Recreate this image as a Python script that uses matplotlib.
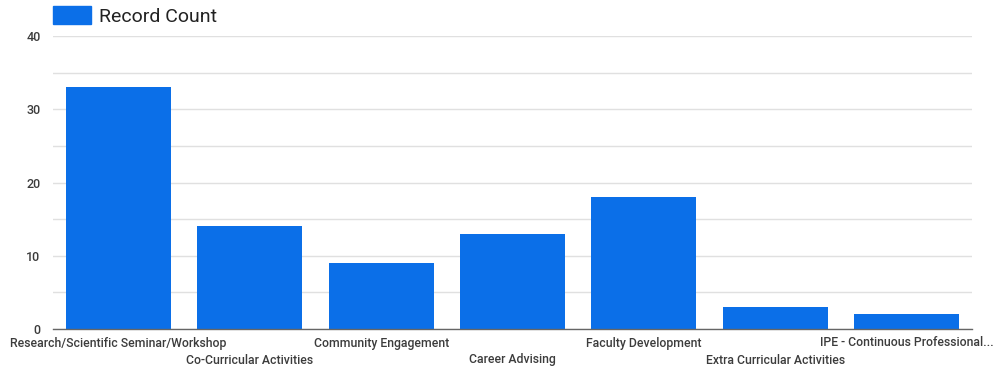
import matplotlib
matplotlib.use("Agg")
import matplotlib.pyplot as plt
from matplotlib.patches import Patch
from matplotlib.ticker import MultipleLocator

plt.rcParams['font.family'] = ['Roboto', 'DejaVu Sans']

categories = [
    "Research/Scientific Seminar/Workshop",
    "Co-Curricular Activities",
    "Community Engagement",
    "Career Advising",
    "Faculty Development",
    "Extra Curricular Activities",
    "IPE - Continuous Professional...",
]
record_count = [33, 14, 9, 13, 18, 3, 2]
y_ticks = [0, 10, 20, 30, 40]

bar_color = "#0b6fe8"
text_color = "#3c3c3c"

fig = plt.figure(figsize=(9.95, 3.71), dpi=100)
ax = fig.add_axes([53 / 995, 1 - 329 / 371, (972 - 53) / 995, (329 - 36) / 371])

x = list(range(len(categories)))
ax.bar(x, record_count, width=0.8, color=bar_color, zorder=3)

ax.set_xlim(-0.5, len(categories) - 0.5)
ax.set_ylim(0, 40)
ax.set_yticks(y_ticks)
ax.yaxis.set_minor_locator(MultipleLocator(5))
ax.grid(axis='y', which='both', color='#e0e0e0', linewidth=1, zorder=0)
ax.tick_params(axis='y', which='both', length=0, pad=9, labelsize=9,
               labelcolor=text_color)
for lbl in ax.get_yticklabels():
    lbl.set_fontweight('medium')
ax.tick_params(axis='x', length=0)
ax.set_xticks([])

for s in ['top', 'right', 'left']:
    ax.spines[s].set_visible(False)
ax.spines['bottom'].set_color('#666666')
ax.spines['bottom'].set_linewidth(1)
ax.spines['bottom'].set_zorder(4)

# category labels staggered over two rows
for i, name in enumerate(categories):
    y_off = -14 / 293 * 40 if i % 2 == 0 else -31 / 293 * 40
    ax.text(i, y_off, name, ha='center', va='center', fontsize=8.8,
            fontweight='medium', color=text_color, clip_on=False)

handle = Patch(facecolor=bar_color, edgecolor=bar_color)
fig.legend([handle], ["Record Count"], loc='upper left',
           bbox_to_anchor=(36 / 995, 1.03), frameon=False,
           prop={'size': 14, 'weight': 'normal'},
           handlelength=1.95, handleheight=1.0, handletextpad=0.4,
           labelcolor='#222222')

fig.savefig("out.png", dpi=100, facecolor='white')
